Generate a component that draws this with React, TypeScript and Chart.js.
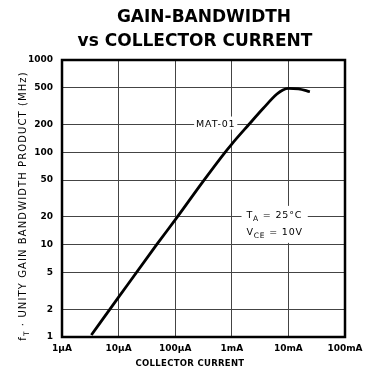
import React, { useEffect, useRef } from 'react';
import { Chart, registerables } from 'chart.js';

Chart.register(...registerables);

// ---- data ----
const currents = [3.3e-6, 1e-5, 4.7e-5, 1.06e-4, 3e-4, 7.6e-4, 1e-3, 2e-3, 3.6e-3, 6.2e-3, 8e-3, 1e-2, 1.5e-2, 2.4e-2];
const ftValues = [1.05, 2.7, 10, 19.5, 47, 100, 123, 200, 300, 425, 474, 492, 487, 453];

const xTickValues = [1e-6, 1e-5, 1e-4, 1e-3, 1e-2, 1e-1];
const xTickLabels = ['1µA', '10µA', '100µA', '1mA', '10mA', '100mA'];
const yTickValues = [1, 2, 5, 10, 20, 50, 100, 200, 500, 1000];
const yTickLabels = ['1', '2', '5', '10', '20', '50', '100', '200', '500', '1000'];

const titleLines = ['GAIN-BANDWIDTH', 'vs COLLECTOR CURRENT'];
const xTitle = 'COLLECTOR CURRENT';
const seriesLabel = 'MAT-01';

const FONT = '"DejaVu Sans", "Liberation Sans", sans-serif';

type Run = { text: string; font: string; dy: number };

function runsWidth(ctx: CanvasRenderingContext2D, runs: Run[]) {
  let w = 0;
  for (const r of runs) {
    ctx.font = r.font;
    w += ctx.measureText(r.text).width;
  }
  return w;
}

function drawRuns(ctx: CanvasRenderingContext2D, runs: Run[], x: number, y: number) {
  let cx = x;
  for (const r of runs) {
    ctx.font = r.font;
    ctx.fillText(r.text, cx, y + r.dy);
    cx += ctx.measureText(r.text).width;
  }
}

const overlayPlugin = {
  id: 'overlay',
  afterDatasetsDraw(chart: any) {
    const ctx: CanvasRenderingContext2D = chart.ctx;
    const { left, right, top, bottom } = chart.chartArea;
    const xs = chart.scales.x;
    const ys = chart.scales.y;
    ctx.save();
    ctx.fillStyle = '#000';
    ctx.textBaseline = 'alphabetic';

    // MAT-01 label
    (ctx as any).letterSpacing = '0.8px';
    ctx.font = `9.5px ${FONT}`;
    const mx = xs.getPixelForValue(5.2e-4);
    const my = ys.getPixelForValue(200);
    const mw = ctx.measureText(seriesLabel).width;
    ctx.fillStyle = '#fff';
    ctx.fillRect(mx - mw / 2 - 2, my - 8, mw + 4, 13);
    ctx.fillStyle = '#000';
    ctx.textAlign = 'left';
    ctx.fillText(seriesLabel, mx - mw / 2, my + 2);

    // conditions
    const small = `9.5px ${FONT}`;
    const sub = `7.5px ${FONT}`;
    const tx = xs.getPixelForValue(1.82e-3);
    const ty = ys.getPixelForValue(20) + 1;
    const line1: Run[] = [
      { text: 'T', font: small, dy: 0 },
      { text: 'A', font: sub, dy: 3 },
      { text: ' = 25°C', font: small, dy: 0 },
    ];
    const line2: Run[] = [
      { text: 'V', font: small, dy: 0 },
      { text: 'CE', font: sub, dy: 3 },
      { text: ' = 10V', font: small, dy: 0 },
    ];
    const w1 = runsWidth(ctx, line1);
    const w2 = runsWidth(ctx, line2);
    ctx.fillStyle = '#fff';
    ctx.fillRect(tx - 5, ty - 12, Math.max(w1, w2) + 10, 37);
    ctx.fillStyle = '#000';
    drawRuns(ctx, line1, tx, ty);
    drawRuns(ctx, line2, tx, ty + 17);

    // frame
    ctx.strokeStyle = '#000';
    ctx.lineWidth = 2.5;
    ctx.strokeRect(left, top, right - left, bottom - top);

    // titles
    (ctx as any).letterSpacing = '0px';
    ctx.textAlign = 'center';
    ctx.font = `bold 17px ${FONT}`;
    ctx.fillText(titleLines[0], 204, 22);
    ctx.fillText(titleLines[1], 195, 46);

    (ctx as any).letterSpacing = '0.3px';
    ctx.font = `bold 8.5px ${FONT}`;
    ctx.fillText(xTitle, 190, 366);

    // y axis title (rotated)
    (ctx as any).letterSpacing = '1.1px';
    const yf = `10px ${FONT}`;
    const yRuns: Run[] = [
      { text: 'f', font: yf, dy: 0 },
      { text: 'T', font: `7.5px ${FONT}`, dy: 3 },
      { text: ' · UNITY GAIN BANDWIDTH PRODUCT (MHz)', font: yf, dy: 0 },
    ];
    const yw = runsWidth(ctx, yRuns);
    ctx.translate(26, 206);
    ctx.rotate(-Math.PI / 2);
    ctx.textAlign = 'left';
    drawRuns(ctx, yRuns, -yw / 2, 0);
    ctx.restore();
  },
};

export default function App() {
  const ref = useRef<HTMLCanvasElement | null>(null);
  useEffect(() => {
    document.body.style.margin = '0';
    const canvas = ref.current!;
    const chart = new Chart(canvas, {
      type: 'line',
      data: {
        datasets: [
          {
            label: seriesLabel,
            data: currents.map((c, i) => ({ x: c, y: ftValues[i] })),
            borderColor: '#000',
            borderWidth: 2.8,
            pointRadius: 0,
            cubicInterpolationMode: 'monotone',
            fill: false,
          },
        ],
      },
      options: {
        responsive: false,
        animation: false,
        devicePixelRatio: 1,
        layout: { padding: { top: 60, right: 26, left: 0, bottom: 0 } },
        plugins: {
          legend: { display: false },
          tooltip: { enabled: false },
          title: { display: false },
        },
        scales: {
          x: {
            type: 'logarithmic',
            min: 1e-6,
            max: 1e-1,
            afterBuildTicks: (s: any) => {
              s.ticks = xTickValues.map((v) => ({ value: v }));
            },
            afterFit: (s: any) => {
              s.height = 36;
            },
            ticks: {
              autoSkip: false,
              maxRotation: 0,
              padding: 6,
              color: '#000',
              font: { family: FONT, weight: 'bold', size: 9 },
              callback: (_v: any, i: number) => xTickLabels[i],
            },
            grid: { color: '#444', lineWidth: 1, drawTicks: false },
            border: { display: false },
          },
          y: {
            type: 'logarithmic',
            min: 1,
            max: 1000,
            afterBuildTicks: (s: any) => {
              s.ticks = yTickValues.map((v) => ({ value: v }));
            },
            afterFit: (s: any) => {
              s.width = 62;
            },
            ticks: {
              autoSkip: false,
              padding: 9,
              color: '#000',
              font: { family: FONT, weight: 'bold', size: 9 },
              callback: (_v: any, i: number) => yTickLabels[i],
            },
            grid: { color: '#444', lineWidth: 1, drawTicks: false },
            border: { display: false },
          },
        },
      } as any,
      plugins: [overlayPlugin],
    });
    return () => chart.destroy();
  }, []);
  return <canvas ref={ref} width={371} height={373} style={{ display: 'block' }} />;
}
